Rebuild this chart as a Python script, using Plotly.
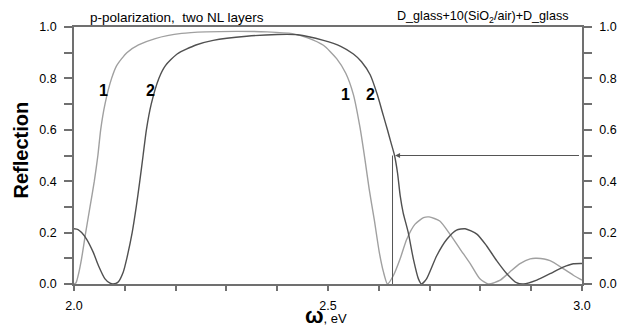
import plotly.graph_objects as go

# ---- data ----
omega_1 = [2.000, 2.004, 2.009, 2.015, 2.023, 2.0315, 2.040, 2.047, 2.0525, 2.061, 2.074, 2.084,
           2.104, 2.127, 2.160, 2.212, 2.260, 2.320, 2.380, 2.430, 2.460, 2.491, 2.517, 2.535,
           2.550, 2.563, 2.573, 2.581, 2.591, 2.601, 2.609, 2.617, 2.629, 2.642, 2.655, 2.671,
           2.688, 2.699, 2.720, 2.740, 2.760, 2.780, 2.799, 2.816, 2.839, 2.858, 2.878, 2.898,
           2.911, 2.937, 2.963, 2.983, 3.000]
refl_1 = [0.000, 0.005, 0.040, 0.100, 0.200, 0.300, 0.400, 0.500, 0.600, 0.700, 0.800, 0.850,
          0.900, 0.930, 0.955, 0.975, 0.981, 0.983, 0.981, 0.974, 0.958, 0.929, 0.877, 0.820,
          0.737, 0.609, 0.481, 0.370, 0.251, 0.123, 0.048, 0.000, 0.034, 0.098, 0.174, 0.232,
          0.258, 0.261, 0.245, 0.194, 0.136, 0.079, 0.020, 0.000, 0.015, 0.047, 0.079, 0.098,
          0.100, 0.091, 0.060, 0.034, 0.015]

omega_2 = [2.000, 2.008, 2.015, 2.025, 2.038, 2.048, 2.061, 2.071, 2.077, 2.087, 2.097, 2.104,
           2.1145, 2.1225, 2.1295, 2.136, 2.1425, 2.152, 2.167, 2.180, 2.203, 2.240, 2.274, 2.340,
           2.400, 2.440, 2.491, 2.525, 2.550, 2.566, 2.583, 2.597, 2.609, 2.617, 2.624, 2.631,
           2.637, 2.642, 2.648, 2.658, 2.668, 2.678, 2.684, 2.694, 2.714, 2.734, 2.753, 2.770,
           2.793, 2.812, 2.832, 2.852, 2.871, 2.885, 2.911, 2.937, 2.963, 2.983, 3.000]
refl_2 = [0.215, 0.212, 0.200, 0.174, 0.123, 0.072, 0.020, 0.003, 0.000, 0.008, 0.047, 0.100,
          0.200, 0.300, 0.400, 0.500, 0.600, 0.700, 0.800, 0.850, 0.895, 0.930, 0.948, 0.964,
          0.971, 0.970, 0.948, 0.925, 0.895, 0.865, 0.814, 0.737, 0.655, 0.600, 0.550, 0.500,
          0.430, 0.345, 0.277, 0.200, 0.098, 0.020, 0.000, 0.020, 0.110, 0.174, 0.210, 0.215,
          0.194, 0.149, 0.091, 0.040, 0.005, 0.000, 0.015, 0.040, 0.066, 0.079, 0.080]

x_range = [2.0, 3.0]
x_major_step = 0.5
x_minor_step = 0.1
y_range = [0.0, 1.0]
y_major_step = 0.2
y_minor_step = 0.1

# curve labels: (text, omega, reflection)
curve_labels = [("1", 2.058, 0.752), ("2", 2.150, 0.752), ("1", 2.535, 0.737), ("2", 2.583, 0.737)]

# arrow marking R = 0.5 on curve 2
arrow_y = 0.5
arrow_tip_x = 2.632
arrow_tail_x = 3.0
vline_x = 2.627

FONT = "Arial, Liberation Sans, sans-serif"
AXC = "#707070"

fig = go.Figure()
fig.add_trace(go.Scatter(x=omega_1, y=refl_1, mode="lines", line=dict(color="#a0a0a0", width=1.4, shape="spline", smoothing=0.6),
                         showlegend=False, hoverinfo="skip"))
fig.add_trace(go.Scatter(x=omega_2, y=refl_2, mode="lines", line=dict(color="#505050", width=1.4, shape="spline", smoothing=0.6),
                         showlegend=False, hoverinfo="skip"))
fig.add_trace(go.Scatter(x=[x_range[0]], y=[y_range[0]], yaxis="y2", mode="markers", marker=dict(opacity=0),
                         showlegend=False, hoverinfo="skip"))

# vertical line and arrow
fig.add_shape(type="line", x0=vline_x, x1=vline_x, y0=0, y1=arrow_y, xref="x", yref="y",
              line=dict(color="#555555", width=1))
fig.add_annotation(x=arrow_tip_x, y=arrow_y, ax=arrow_tail_x, ay=arrow_y, xref="x", yref="y",
                   axref="x", ayref="y", showarrow=True, arrowhead=2, arrowsize=1, arrowwidth=1,
                   arrowcolor="#555555", text=" ")

for t, xv, yv in curve_labels:
    fig.add_annotation(x=xv, y=yv, xref="x", yref="y", text="<b>" + t + "</b>", showarrow=False,
                       font=dict(family=FONT, size=16, color="black"))

fig.add_annotation(x=0.0276, y=1.038, xref="paper", yref="paper", xanchor="left", yanchor="middle",
                   text="p-polarization,\u00a0 two NL layers", showarrow=False,
                   font=dict(family=FONT, size=13.5, color="black"))
fig.add_annotation(x=0.978, y=1.038, xref="paper", yref="paper", xanchor="right", yanchor="middle",
                   text="D_glass+10(SiO<sub>2</sub>/air)+D_glass", showarrow=False,
                   font=dict(family=FONT, size=12.6, color="black"))
fig.add_annotation(x=-0.104, y=0.52, xref="paper", yref="paper", xanchor="center", yanchor="middle",
                   text="<b>Reflection</b>", textangle=-90, showarrow=False,
                   font=dict(family=FONT, size=20, color="black"))
fig.add_annotation(x=0.497, y=-0.178, xref="paper", yref="paper", xanchor="center", yanchor="bottom",
                   text="<span style='font-size:22px'><b>ω</b></span>, eV", showarrow=False,
                   font=dict(family=FONT, size=13, color="black"))

tickfont = dict(family=FONT, size=12.5, color="black")
common_y = dict(range=y_range, tick0=y_range[0], dtick=y_major_step, tickformat=".1f",
                ticks="outside", ticklen=8, tickcolor=AXC, tickwidth=1.5,
                minor=dict(dtick=y_minor_step, ticks="outside", ticklen=8, tickcolor=AXC, tickwidth=1.5, showgrid=False),
                showline=True, linecolor=AXC, linewidth=1.5,
                showgrid=False, zeroline=False, tickfont=tickfont, ticklabelstandoff=5)

# page body has an 8px margin, so figure is 8px smaller and margins shifted accordingly
fig.update_layout(
    width=622, height=317,
    margin=dict(l=66, r=48, t=17, b=40),
    paper_bgcolor="white", plot_bgcolor="white",
    xaxis=dict(range=x_range, tick0=x_range[0], dtick=x_major_step, tickformat=".1f",
               ticks="outside", ticklen=5, tickcolor=AXC, tickwidth=1.5,
               minor=dict(dtick=x_minor_step, ticks="outside", ticklen=5, tickcolor=AXC, tickwidth=1.5, showgrid=False),
               showline=True, linecolor=AXC, linewidth=1.5, mirror=True,
               showgrid=False, zeroline=False, tickfont=tickfont, ticklabelstandoff=4),
    yaxis=dict(side="left", **common_y),
    yaxis2=dict(side="right", overlaying="y", **common_y),
)

fig.write_html("out.html")
